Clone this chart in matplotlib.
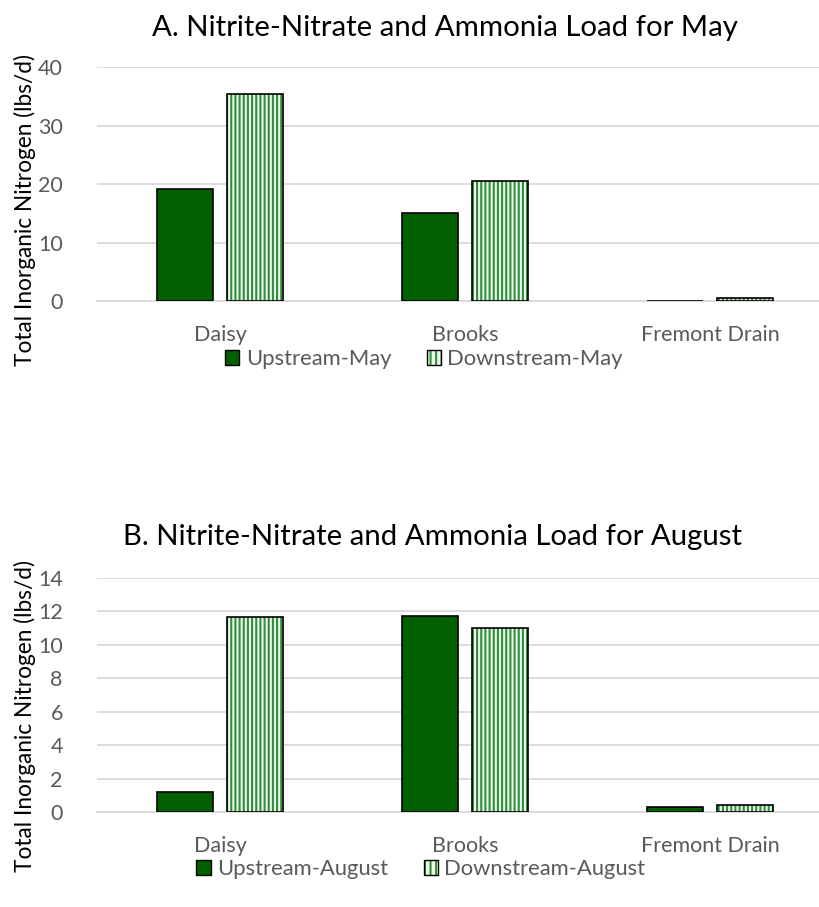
import numpy as np
import matplotlib.pyplot as plt
from matplotlib.patches import Patch

plt.rcParams['font.family'] = ['Lato', 'DejaVu Sans']
plt.rcParams['hatch.linewidth'] = 1.5

sites = ['Daisy', 'Brooks', 'Fremont Drain']
up_may = [19.1, 15.0, 0.05]
down_may = [35.4, 20.5, 0.6]
up_aug = [1.2, 11.7, 0.3]
down_aug = [11.65, 11.0, 0.45]

titles = ['A. Nitrite-Nitrate and Ammonia Load for May',
          'B. Nitrite-Nitrate and Ammonia Load for August']
legend_names = [('Upstream-May', 'Downstream-May'),
                ('Upstream-August', 'Downstream-August')]
yticks_may = [0, 10, 20, 30, 40]
yticks_aug = [0, 2, 4, 6, 8, 10, 12, 14]

dark = '#006000'
stripe = '#2f8f3a'
pale = '#eef7ee'
grid = '#d9d9d9'
gray_txt = '#595959'

fig = plt.figure(figsize=(8.2, 9.07), dpi=100)

panels = [
    (0.6681, up_may, down_may, yticks_may),
    (0.1047, up_aug, down_aug, yticks_aug),
]

W, H = 820, 907
for i, (bottom, up, down, ticks) in enumerate(panels):
    ax = fig.add_axes([97.5 / W, bottom, 735 / W, 234 / H])
    x = np.arange(len(sites))
    bw = 0.229
    off = 0.143
    ax.bar(x - off, up, bw, color=dark, edgecolor='black', linewidth=1.2, zorder=3)
    # striped bars: hatch first, then black outline on top
    ax.bar(x + off, down, bw, color=pale, edgecolor=stripe, hatch='||||', linewidth=0, zorder=3)
    ax.bar(x + off, down, bw, fill=False, edgecolor='black', linewidth=1.2, zorder=4)
    ax.set_xlim(-0.5, 2.5)
    ax.set_ylim(ticks[0], ticks[-1])
    ax.set_yticks(ticks)
    ax.set_xticks(x)
    ax.set_xticklabels(sites)
    ax.grid(axis='y', color=grid, linewidth=1.3, zorder=0)
    ax.set_axisbelow(True)
    for s in ['top', 'right', 'left']:
        ax.spines[s].set_visible(False)
    ax.spines['bottom'].set_color(grid)
    ax.spines['bottom'].set_linewidth(1.3)
    ax.tick_params(length=0, labelsize=15.5, colors=gray_txt)
    ax.tick_params(axis='y', pad=25)
    ax.tick_params(axis='x', pad=17)

    ytop = 1 - (28 if i == 0 else 537) / H
    xtit = 445 if i == 0 else 433
    fig.text(xtit / W, ytop, titles[i], ha='center', va='center', fontsize=21.2, color='black')
    ylab_c = 1 - (210 if i == 0 else 716) / H
    fig.text(25 / W, ylab_c, 'Total Inorganic Nitrogen (lbs/d)', rotation=90,
             ha='center', va='center', fontsize=16.3, color='black')

    h_up = Patch(facecolor=dark, edgecolor='black', linewidth=1.0)
    h_down = (Patch(facecolor=pale, edgecolor=stripe, hatch='|||', linewidth=0),
              Patch(fill=False, edgecolor='black', linewidth=1.0))
    leg_y = 1 - (359 if i == 0 else 869) / H
    leg_x = 424 if i == 0 else 421
    fig.legend([h_up, h_down], legend_names[i], loc='center', bbox_to_anchor=(leg_x / W, leg_y),
               ncol=2, frameon=False, fontsize=15.8, handlelength=0.65, handleheight=0.65,
               handletextpad=0.3, columnspacing=1.6, labelcolor=gray_txt)

fig.savefig('out.png', dpi=100)
